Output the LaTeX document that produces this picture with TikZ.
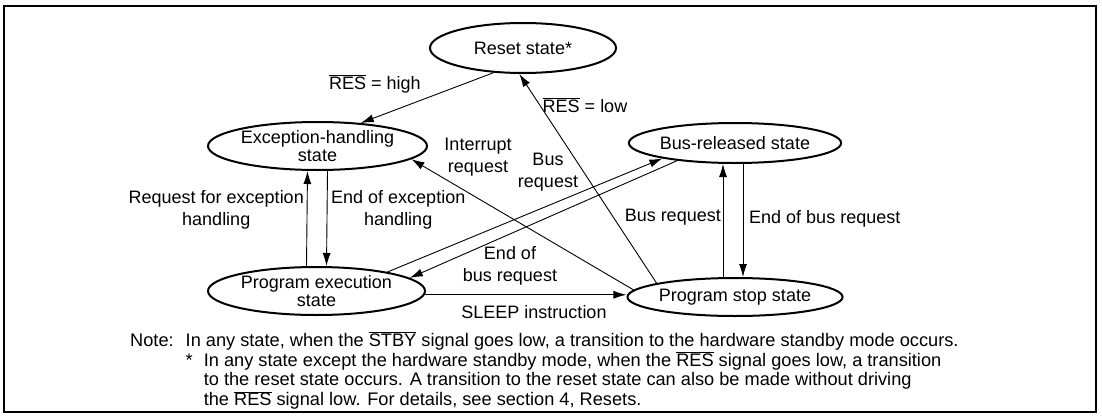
\documentclass[tikz,border=0pt]{standalone}
\usepackage{fontspec}
\setmainfont{Liberation Sans}
\usetikzlibrary{shapes.geometric}
\usetikzlibrary{arrows.meta}

\newcommand{\resbar}{$\overline{\mbox{RES}}$}
\newcommand{\stbybar}{$\overline{\mbox{STBY}}$}

\begin{document}
\begin{tikzpicture}[x=1pt, y=-1pt,
    state/.style={draw, ellipse, line width=2pt, inner sep=0pt, align=center, font=\fontsize{18}{18}\selectfont},
    lbl/.style={align=center, inner sep=0pt, font=\fontsize{18}{22}\selectfont},
    arrow/.style={-{Latex[length=13pt,width=8pt]}, line width=0.9pt}
  ]
    \useasboundingbox (0,0) rectangle (1102,415);
    \draw[line width=1.5pt] (4,6) rectangle (1096,412);

    % states
    \node[state, minimum width=186pt, minimum height=50pt] (reset) at (523,48) {Reset state*};
    \node[state, minimum width=219pt, minimum height=48pt] (exc) at (317.5,146) {Exception-handling\\state};
    \node[state, minimum width=206pt, minimum height=40pt] (bus) at (735,143) {Bus-released state};
    \node[state, minimum width=217pt, minimum height=48pt] (prog) at (316.5,291) {Program execution\\state};
    \node[state, minimum width=206pt, minimum height=38pt] (stop) at (735,297) {Program stop state};

    % transitions
    \draw[arrow] (reset.220) -- (exc.28);
    \draw[arrow] (stop.170) -- (reset.262);
    \draw[arrow] (stop.176) -- (exc.352);
    \draw[arrow] (prog.15) -- (bus.192);
    \draw[arrow] (bus.197) -- (prog.8);
    \draw[arrow] (prog.-2) -- (prog.-2 -| stop.west);
    \draw[arrow] ([xshift=-10pt]prog.north) -- ([xshift=-10pt]exc.south);
    \draw[arrow] ([xshift=10pt]exc.south) -- ([xshift=10pt]prog.north);
    \draw[arrow] ([xshift=-12pt]stop.north) -- ([xshift=-12pt]bus.south);
    \draw[arrow] ([xshift=8pt]bus.south) -- ([xshift=8pt]stop.north);

    % labels
    \node[lbl] (high) at (375,84) {\resbar{} = high};
    \node[lbl] (low) at (585,105) {\resbar{} = low};
    \node[lbl] (intreq) at (478,157) {Interrupt\\request};
    \node[lbl] (busreq) at (548,172) {Bus\\request};
    \node[lbl, anchor=east] (excreq) at (304,210) {Request for exception\\handling};
    \node[lbl, anchor=west] (excend) at (331,210) {End of exception\\handling};
    \node[lbl] (busend) at (510,266) {End of\\bus request};
    \node[lbl] (sleep) at (534,312) {SLEEP instruction};
    \node[lbl, anchor=east] (busreq2) at (721,217) {Bus request};
    \node[lbl, anchor=west] (busend2) at (749,219) {End of bus request};

    % note
    \node[anchor=base west, inner sep=0pt, font=\fontsize{18.2}{19}\selectfont] (note) at (130,346) {%
      \begin{tabular}[t]{@{}l@{\hspace{12pt}}l@{\hspace{11pt}}l@{}}
        Note: & \multicolumn{2}{@{}l@{}}{In any state, when the \stbybar{} signal goes low, a transition to the hardware standby mode occurs.}\\
        & * & In any state except the hardware standby mode, when the \resbar{} signal goes low, a transition\\
        & & to the reset state occurs. A transition to the reset state can also be made without driving\\
        & & the \resbar{} signal low. For details, see section 4, Resets.
      \end{tabular}};
  \end{tikzpicture}
\end{document}
